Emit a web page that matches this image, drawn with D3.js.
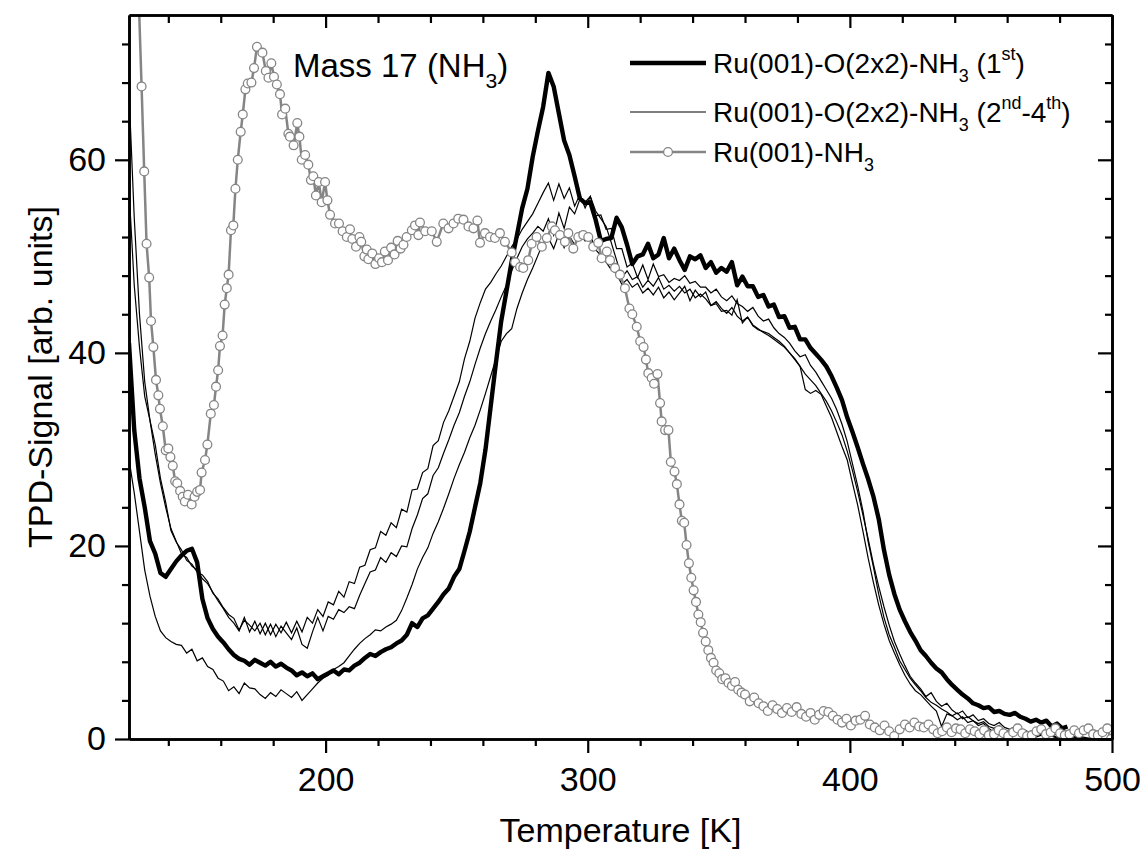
<!DOCTYPE html>
<html>
<head>
<meta charset="utf-8">
<script src="https://cdn.jsdelivr.net/npm/d3@7"></script>
<style>
	html, body { margin: 0; padding: 0; background: #fff; }
	svg text { font-family: "Liberation Sans", Arial, Helvetica, sans-serif; fill: #000; }
</style>
</head>
<body>
<svg id="chart" width="1144" height="854"></svg>
<script>
// axis ranges and ticks
var xDomain = [125, 500];
var yDomain = [0, 75];
var xMajorTicks = [200, 300, 400, 500];
var xMinorTicks = [140, 160, 180, 220, 240, 260, 280, 320, 340, 360, 380, 420, 440, 460, 480];
var yMajorTicks = [0, 20, 40, 60];
var yMinorTicks = [4, 8, 12, 16, 24, 28, 32, 36, 44, 48, 52, 56, 64, 68, 72];

// temperature grid of the O(2x2) runs [K]
var tempGrid = [
	125, 127, 129, 131, 133, 135, 137, 139, 141, 143,
	145, 147, 149, 151, 153, 155, 157, 159, 161, 163,
	165, 167, 169, 171, 173, 175, 177, 179, 181, 183,
	185, 187, 189, 191, 193, 195, 197, 199, 201, 203,
	205, 207, 209, 211, 213, 215, 217, 219, 221, 223,
	225, 227, 229, 231, 233, 235, 237, 239, 241, 243,
	245, 247, 249, 251, 253, 255, 257, 259, 261, 263,
	265, 267, 269, 271, 273, 275, 277, 279, 281, 283,
	285, 287, 289, 291, 293, 295, 297, 299, 301, 303,
	305, 307, 309, 311, 313, 315, 317, 319, 321, 323,
	325, 327, 329, 331, 333, 335, 337, 339, 341, 343,
	345, 347, 349, 351, 353, 355, 357, 359, 361, 363,
	365, 367, 369, 371, 373, 375, 377, 379, 381, 383,
	385, 387, 389, 391, 393, 395, 397, 399, 401, 403,
	405, 407, 409, 411, 413, 415, 417, 419, 421, 423,
	425, 427, 429, 431, 433, 435, 437, 439, 441, 443,
	445, 447, 449, 451, 453, 455, 457, 459, 461, 463,
	465, 467, 469, 471, 473, 475, 477, 479, 481, 483,
	485, 487, 489, 491, 493, 495, 497, 499
];

// Ru(001)-O(2x2)-NH3, 1st run (ends at 483 K)
var firstRun = [
	41, 32, 27, 24, 20.5, 19.2, 17.2, 16.8, 17.6, 18.4,
	19, 19.5, 19.7, 18.3, 14.5, 12.5, 11.4, 10.6, 10, 9.3,
	8.7, 8.3, 8.1, 7.7, 8.2, 7.9, 7.6, 8, 7.5, 7.8,
	7.4, 7.1, 6.6, 6.9, 6.5, 6.8, 6.2, 6.5, 6.8, 7.1,
	6.7, 7.2, 7.1, 7.6, 7.9, 8.4, 8.8, 8.6, 9, 9.3,
	9.5, 9.9, 10.2, 10.8, 12, 11.6, 12.5, 12.8, 13.5, 14.2,
	15, 15.6, 16.8, 17.6, 19.5, 21.5, 24, 26.5, 30, 34.5,
	39, 43.3, 46.4, 49.5, 52.2, 55, 57, 60.3, 63, 65.5,
	69, 67.6, 64.8, 62, 60.5, 58.3, 56, 55.5, 55.6, 53.8,
	51.6, 51.8, 51.9, 54, 53, 51.2, 49.2, 50, 50.2, 51.3,
	49.8, 50.2, 51.9, 49.8, 50.8, 49.6, 48.6, 50, 49.7, 50.1,
	48.8, 49.4, 48.3, 48.8, 48.4, 49.4, 47, 47.9, 46.9, 46.9,
	45.8, 46, 44.8, 45, 43.7, 43.8, 42.6, 42.7, 41.4, 41.4,
	40.5, 39.9, 39.3, 38.6, 37.6, 36.4, 35.1, 33.3, 31.8, 30.2,
	28.5, 26.9, 25.1, 22.8, 19.6, 17, 15, 13.4, 12.2, 11.1,
	10.2, 9.2, 8.6, 7.9, 7.3, 6.9, 6.2, 5.6, 5.1, 4.6,
	4.2, 3.7, 3.5, 3.2, 3.3, 2.8, 2.9, 2.6, 2.5, 2.7,
	2.3, 2.1, 1.8, 2, 1.7, 1.9, 1.3, 1.6, 1.1, 1.3
];

// Ru(001)-O(2x2)-NH3, 2nd to 4th runs
var secondRun = [
	67, 54, 44, 37, 33, 29.5, 26.5, 24, 21.8, 20.5,
	19.2, 18.8, 17.9, 17.5, 16.6, 16.1, 15.2, 14.3, 13.5, 12.6,
	12, 11.2, 12.6, 11.1, 12.2, 10.9, 12, 10.8, 11.9, 11,
	12.1, 11, 12.2, 11.1, 12.6, 12, 13.4, 12.7, 14.2, 13.9,
	15.3, 14.7, 16.3, 16.1, 17.8, 18, 19.6, 19.8, 21.5, 21.1,
	22.4, 21.9, 23.8, 23.5, 25.8, 25.9, 27.6, 28, 30.4, 30.9,
	32.8, 34, 35.5, 37, 39.4, 41.2, 43.6, 45.2, 46.6, 47.3,
	48.2, 49, 50, 51, 51.8, 52.8, 53.6, 54.4, 55.5, 56.6,
	57.6, 55.8, 57.5, 56, 57.1, 55.2, 56.4, 55, 56.2, 54.2,
	54.3, 52.8, 52.9, 50.8, 50.8, 48.9, 49.3, 47.8, 49.1, 47.6,
	49.2, 47.9, 48.1, 47.3, 47.7, 47.5, 48, 47.2, 47.4, 46.8,
	46.8, 46.2, 46.6, 45.8, 45.4, 45.9, 45.1, 44.8, 44.3, 44.7,
	43.8, 43.3, 43.5, 42.6, 42, 41.6, 41, 40.2, 39.6, 39.8,
	38.7, 38, 37.1, 36.2, 35.3, 34.1, 32.6, 30.8, 28.5, 26.2,
	23.6, 20.4, 17.8, 15, 12.6, 10.8, 9.5, 8.1, 7.2, 6.3,
	5.6, 5, 4.3, 3.8, 3.5, 3.1, 2.8, 2.4, 2.7, 2.1,
	2.3, 1.9, 1.6, 1.8, 1.3, 1.1, 1.4, 0.9, 0.8, 1,
	0.6, 0.5, 0.7, 0.4, 0.5, 0.3, 0.4, 0.2, 0.3, 0.2,
	0.1, 0.2, 0.1, 0, 0.1, 0, 0, 0
];

var thirdRun = [
	57, 47, 40.6, 35.5, 33, 30.5, 27, 24.5, 21.6, 20.4,
	19.6, 18.5, 18.1, 17.3, 17, 16.3, 15.1, 14.5, 13.6, 12.9,
	12.5, 11.3, 12.3, 11.8, 11.2, 12, 10.8, 11.9, 10.6, 11.7,
	11, 10.3, 11.5, 9.8, 9.4, 11.1, 12.6, 11.2, 12.7, 12.4,
	13.4, 13.1, 13.7, 13.5, 14.9, 16.1, 17.3, 17.5, 18.8, 18.3,
	19.3, 18.9, 20, 19.9, 21.8, 23.2, 24.9, 25.4, 27.3, 28.1,
	29.6, 31, 32.5, 33.8, 35.5, 37, 38.8, 40.5, 42, 43.3,
	44.5, 45.8, 47, 48.5, 49.8, 51, 51.8, 52.4, 53.1, 52.6,
	53.9, 52.2, 54.5, 52.9, 55.1, 54.4, 55.9, 55.6, 56.2, 54.7,
	53.9, 53.1, 51.4, 49.6, 47.8, 48.5, 47.6, 47.9, 46.8, 47.5,
	46.9, 47.8, 46.6, 47, 46.4, 46.9, 46.2, 46.6, 45.7, 46.1,
	45.6, 44.9, 45.3, 44.6, 44.1, 44.7, 43.8, 43.3, 43.7, 42.9,
	42.5, 42.1, 41.8, 41.4, 41, 40.6, 40, 39.4, 38.6, 37.8,
	37.2, 36.6, 35.8, 35, 34, 32.8, 31.5, 29.8, 27.8, 25.6,
	23.2, 20.7, 18.1, 15.8, 13.7, 11.8, 10.1, 8.8, 7.6, 6.5,
	5.8, 5.2, 4.4, 4.8, 3.9, 3.4, 3.7, 3, 2.6, 2.9,
	2.2, 2.5, 1.9, 2.1, 1.6, 1.4, 1.7, 1.2, 1, 1.3,
	0.8, 0.9, 0.6, 0.8, 0.5, 0.6, 0.4, 0.5, 0.3, 0.4,
	0.2, 0.3, 0.2, 0.1, 0.2, 0.1, 0, 0
];

var fourthRun = [
	29, 25.5, 21.5, 17.5, 14.8, 12.7, 11.2, 10.5, 10.1, 9.8,
	9.7, 8.9, 9.3, 8.1, 8.4, 7.5, 7.2, 6.3, 6, 5,
	5.4, 4.7, 5.8, 5.3, 5.2, 4.6, 4.2, 4.8, 4.4, 5.1,
	4.7, 4.3, 4.9, 4, 4.6, 5.2, 5.8, 6.3, 6.6, 7.2,
	7.5, 7.9, 8.6, 9.3, 9.9, 10.4, 10.8, 11.3, 11.2, 11.6,
	11.9, 12.3, 13.3, 14.6, 16, 17.6, 18.8, 19.8, 21.3, 22.5,
	23.9, 25.4, 27, 28.4, 29.7, 31.2, 32.5, 34.1, 35.8, 37.6,
	39.4, 41.2, 42, 42.5, 44.6, 46.2, 47.6, 48.8, 50.1, 51.4,
	51.9, 50.8, 52.3, 50.9, 52.1, 51.2, 52.5, 51.6, 52.2, 50.7,
	50.1, 49.4, 48.6, 48.2, 47.1, 47.6, 46.8, 47.2, 46.2, 46.7,
	46, 46.8, 45.7, 46.3, 45.5, 46.2, 46.9, 45.4, 46.5, 45.8,
	46.3, 44.9, 45.1, 44.3, 44.4, 43.9, 45.5, 43.1, 43.7, 42.8,
	42.4, 42.2, 42, 41.6, 41.2, 40.7, 40, 39.3, 38.6, 36.2,
	35.8, 36.1, 35.7, 34.5, 33.3, 31.8, 30.3, 28.9, 26.5, 24.2,
	21.5, 18.7, 16.2, 13.9, 11.9, 10.2, 8.9, 7.7, 6.6, 5.7,
	5, 4.6, 4, 3.4, 2.9, 1.3, 2.6, 2.4, 2, 2.3,
	1.7, 1.9, 1.4, 1.6, 1.1, 0.7, 1, 0.8, 0.6, 0.9,
	0.5, 0.3, 0.5, 0.2, 0.4, 0.2, 0.3, 0.1, 0.2, 0.1,
	0, 0.1, 0, 0, 0, 0, 0, 0
];

// Ru(001)-NH3 (grey, open circles)
var nh3Temps = [
	128.8, 129.8, 130.8, 131.7, 132.7, 133.4, 134.3, 135.3, 136.2, 136.8,
	137.9, 139.0, 140.0, 140.8, 141.7, 142.6, 143.4, 144.5, 145.5, 146.3,
	147.5, 148.9, 150.0, 151.0, 152.1, 152.7, 154.0, 154.9, 156.2, 157.4,
	158.2, 159.0, 159.7, 160.7, 161.5, 162.3, 163.0, 163.9, 164.8, 165.6,
	166.5, 167.6, 168.4, 169.4, 170.3, 171.7, 172.7, 173.8, 175.9, 177.2,
	178.2, 179.3, 180.3, 181.4, 182.6, 183.4, 184.6, 185.8, 186.4, 187.8,
	189.2, 190.0, 190.9, 192.2, 193.4, 194.4, 195.3, 196.3, 197.4, 198.5,
	199.8, 200.7, 201.7, 203.6, 205.1, 206.5, 208.1, 209.3, 210.2, 211.6,
	212.9, 213.6, 214.8, 215.7, 216.3, 217.8, 219.0, 220.4, 221.5, 222.6,
	223.8, 225.0, 226.3, 227.5, 228.6, 229.7, 230.9, 232.9, 234.1, 235.4,
	236.0, 238.0, 240.5, 242.4, 244.9, 246.9, 248.8, 250.6, 252.6, 254.5,
	256.4, 257.9, 258.9, 260.8, 262.7, 264.6, 266.5, 268.4, 271.0, 272.3,
	274.2, 275.4, 277.3, 278.6, 280.5, 282.5, 284.4, 286.3, 287.5, 289.4,
	291.3, 292.6, 294.5, 296.4, 298.3, 300.2, 302.1, 304.0, 305.3, 307.3,
	308.5, 310.4, 312.3, 314.2, 315.9, 317.0, 318.7, 320.0, 321.3, 322.2,
	323.1, 324.4, 325.3, 326.6, 327.6, 328.2, 329.5, 330.8, 331.7, 333.1,
	334.0, 335.0, 335.9, 336.8, 337.7, 338.6, 339.5, 340.4, 341.3, 342.2,
	343.1, 344.0, 345.0, 346.0, 347.0, 348.0, 349.0, 350.2, 351.3, 352.5,
	353.7, 355.0, 356.2, 357.4, 358.7, 360.0, 361.8, 363.5, 365.2, 367.0,
	368.7, 370.5, 372.3, 374.1, 376.0, 377.8, 379.7, 381.5, 383.3, 385.0,
	386.6, 388.3, 390.0, 391.8, 393.5, 395.3, 397.0, 398.7, 400.4, 402.2,
	404.0, 405.8, 407.6, 409.5, 411.4, 413.2, 415.0, 416.9, 419.0, 421.0,
	422.8, 424.6, 426.4, 428.2, 430.0, 431.8, 433.5, 435.2, 437.0, 438.8,
	440.5, 442.2, 444.0, 445.8, 447.6, 449.4, 451.2, 453.0, 455.0, 456.8,
	458.6, 460.4, 462.3, 464.0, 465.8, 467.6, 469.4, 471.2, 473.0, 474.8,
	476.6, 478.4, 480.2, 482.0, 483.8, 485.6, 487.4, 489.2, 491.0, 492.8,
	494.6, 496.4, 498.2, 499.6
];
var nh3Signal = [
	76, 67.6, 58.8, 51.3, 47.8, 43.3, 40.6, 37.2, 35.6, 34.2,
	32.4, 29.9, 30.1, 29.2, 28.3, 26.7, 26.5, 25.7, 25.1, 24.6,
	25.3, 24.3, 25.1, 25.6, 25.8, 27.6, 28.9, 30.5, 33.7, 34.6,
	36.5, 38.2, 40.7, 41.8, 45.0, 46.7, 48.1, 52.7, 53.2, 57.0,
	60.0, 62.9, 64.7, 67.3, 67.9, 68.0, 69.5, 71.7, 71.1, 69.2,
	68.5, 70.0, 68.6, 67.8, 66.8, 64.7, 65.3, 62.7, 62.4, 61.5,
	63.8, 62.4, 60.0, 60.5, 59.5, 57.9, 58.3, 56.3, 57.7, 55.6,
	57.7, 55.8, 54.3, 53.4, 53.4, 52.6, 52.0, 52.8, 51.8, 51.0,
	52.0, 51.5, 50.0, 50.7, 49.7, 50.3, 49.2, 49.8, 49.4, 50.5,
	49.6, 50.9, 50.2, 51.6, 50.8, 51.2, 52.0, 52.7, 53.2, 52.2,
	53.5, 52.6, 52.6, 51.5, 53.4, 52.9, 53.4, 53.9, 53.8, 53.1,
	52.9, 53.7, 51.4, 52.4, 52.0, 51.9, 52.4, 51.5, 50.4, 49.4,
	48.9, 48.8, 49.6, 51.3, 52.0, 51.0, 51.9, 53.1, 52.7, 52.2,
	51.5, 52.4, 50.8, 52.0, 52.2, 52.0, 51.0, 51.4, 49.8, 50.5,
	49.6, 48.8, 48.1, 46.7, 44.6, 44.0, 42.7, 41.2, 40.6, 39.3,
	37.9, 37.4, 36.8, 37.8, 34.8, 32.9, 32.0, 32.0, 28.7, 27.7,
	26.4, 24.3, 22.6, 22.4, 20.1, 18.2, 16.7, 15.4, 14.2, 12.9,
	12.1, 11.0, 10.1, 9.2, 8.4, 7.9, 7.1, 6.8, 6.2, 6.3,
	5.8, 5.5, 5.9, 5.1, 4.8, 4.6, 3.9, 4.3, 3.7, 3.4,
	2.9, 3.5, 3.1, 2.7, 3.2, 2.8, 3.3, 2.6, 2.3, 2.7,
	2.0, 2.5, 2.9, 2.8, 2.4, 2.0, 1.7, 2.1, 1.4, 1.9,
	2.0, 2.4, 1.5, 1.2, 0.9, 1.4, 0.8, 0.3, 1.0, 1.5,
	1.2, 1.7, 1.3, 1.2, 1.5, 1.0, 0.6, 0.8, 1.2, 0.7,
	1.1, 1.0, 0.6, 1.0, 0.8, 0.5, 0.9, 0.4, 0.5, 0.9,
	0.6, 0.3, 0.7, 1.1, 0.6, 0.3, 0.4, 0.8, 1.0, 0.5,
	0.7, 1.1, 0.6, 0.4, 0.5, 0.9, 0.6, 0.9, 1.1, 0.5,
	0.4, 0.7, 1.1, 0.0
];

// texts
var xTitle = "Temperature [K]";
var yTitle = "TPD-Signal [arb. units]";
// pieces: [text, "n" normal | "sub" | "sup"]
var massLabel = [["Mass 17 (NH", "n"], ["3", "sub"], [")", "n"]];
var legendLabels = [
	[["Ru(001)-O(2x2)-NH", "n"], ["3", "sub"], [" (1", "n"], ["st", "sup"], [")", "n"]],
	[["Ru(001)-O(2x2)-NH", "n"], ["3", "sub"], [" (2", "n"], ["nd", "sup"], ["-4", "n"], ["th", "sup"], [")", "n"]],
	[["Ru(001)-NH", "n"], ["3", "sub"]]
];

(function() {
	var PLOT_LEFT = 129, PLOT_RIGHT = 1112, PLOT_TOP = 15, PLOT_BOTTOM = 739;
	var MAJOR = 14, MINOR = 7;
	var TICK_FONT = 34;
	var GREY = "#858585";
	var SCRIPT = 0.64;

	var svg = d3.select("#chart");

	var x = d3.scaleLinear().domain(xDomain).range([PLOT_LEFT, PLOT_RIGHT]);
	var y = d3.scaleLinear().domain(yDomain).range([PLOT_BOTTOM, PLOT_TOP]);

	svg.append("defs").append("clipPath")
		.attr("id", "plot-clip")
		.append("rect")
		.attr("x", PLOT_LEFT)
		.attr("y", PLOT_TOP)
		.attr("width", PLOT_RIGHT - PLOT_LEFT)
		.attr("height", PLOT_BOTTOM - PLOT_TOP);

	function pairs(temps, values) {
		return values.map(function(v, i) { return [temps[i], v]; });
	}

	var line = d3.line()
		.x(function(d) { return x(d[0]); })
		.y(function(d) { return y(d[1]); });

	var plot = svg.append("g").attr("clip-path", "url(#plot-clip)");

	// thin runs first, thick 1st run on top
	[secondRun, thirdRun, fourthRun].forEach(function(run) {
		plot.append("path")
			.datum(pairs(tempGrid, run))
			.attr("d", line)
			.style("fill", "none")
			.style("stroke", "#000")
			.style("stroke-width", 1.2)
			.style("stroke-linejoin", "miter");
	});

	plot.append("path")
		.datum(pairs(tempGrid, firstRun))
		.attr("d", line)
		.style("fill", "none")
		.style("stroke", "#000")
		.style("stroke-width", 4.4)
		.style("stroke-linejoin", "round");

	var nh3 = pairs(nh3Temps, nh3Signal);
	plot.append("path")
		.datum(nh3)
		.attr("d", line)
		.style("fill", "none")
		.style("stroke", GREY)
		.style("stroke-width", 2.5)
		.style("stroke-linejoin", "round");

	plot.selectAll("circle.nh3")
		.data(nh3)
		.enter().append("circle")
		.attr("class", "nh3")
		.attr("cx", function(d) { return x(d[0]); })
		.attr("cy", function(d) { return y(d[1]); })
		.attr("r", 4.4)
		.style("fill", "#fff")
		.style("stroke", GREY)
		.style("stroke-width", 1.3);

	// axes: bottom/left ticks outward with labels, top/right ticks inward
	function styleAxis(g) {
		g.selectAll("path.domain").style("stroke", "#000").style("stroke-width", 2.6);
		g.selectAll(".tick line").style("stroke", "#000").style("stroke-width", 2.2);
		g.selectAll(".tick text")
			.style("font-size", TICK_FONT + "px")
			.style("font-family", "'Liberation Sans', Arial, sans-serif")
			.style("fill", "#000");
	}

	function drawAxis(axisFn, scale, transform, major, minor, majorSize, minorSize, labels, pad) {
		var gMinor = svg.append("g")
			.attr("transform", transform)
			.call(axisFn(scale).tickValues(minor).tickSize(minorSize).tickSizeOuter(0).tickFormat(""));
		styleAxis(gMinor);
		var axis = axisFn(scale).tickValues(major).tickSize(majorSize).tickSizeOuter(0).tickPadding(pad);
		if (!labels) axis.tickFormat("");
		var gMajor = svg.append("g")
			.attr("transform", transform)
			.call(axis);
		styleAxis(gMajor);
		return gMajor;
	}

	drawAxis(d3.axisBottom, x, "translate(0," + PLOT_BOTTOM + ")", xMajorTicks, xMinorTicks, MAJOR, MINOR, true, 14);
	drawAxis(d3.axisTop, x, "translate(0," + PLOT_TOP + ")", xMajorTicks, xMinorTicks, -13, -8, false, 0);
	drawAxis(d3.axisLeft, y, "translate(" + PLOT_LEFT + ",0)", yMajorTicks, yMinorTicks, MAJOR, MINOR, true, 9);
	drawAxis(d3.axisRight, y, "translate(" + PLOT_RIGHT + ",0)", yMajorTicks, yMinorTicks, -14, -7, false, 0);

	// axis titles
	svg.append("text")
		.attr("x", (PLOT_LEFT + PLOT_RIGHT) / 2)
		.attr("y", 842)
		.style("text-anchor", "middle")
		.style("font-size", "34px")
		.text(xTitle);

	svg.append("text")
		.attr("transform", "translate(52," + ((PLOT_TOP + PLOT_BOTTOM) / 2) + ") rotate(-90)")
		.style("text-anchor", "middle")
		.style("font-size", "34px")
		.text(yTitle);

	// sub/superscripts as tspans; dy is in the tspan's own em
	function richText(sel, parts) {
		var shift = 0;
		parts.forEach(function(p) {
			var t = sel.append("tspan").text(p[0]);
			var target = p[1] === "sub" ? 0.33 : (p[1] === "sup" ? -0.45 : 0);
			var size = p[1] === "n" ? 1 : SCRIPT;
			if (size !== 1) t.style("font-size", (SCRIPT * 100) + "%");
			if (target !== shift) t.attr("dy", ((target - shift) / size) + "em");
			shift = target;
		});
	}

	var mass = svg.append("text")
		.attr("x", 293)
		.attr("y", 77)
		.style("font-size", "33px");
	richText(mass, massLabel);

	// legend
	var legendRows = [63, 112, 152];
	var legend = svg.append("g");
	legendLabels.forEach(function(parts, i) {
		var ly = legendRows[i];
		var sw = i === 0 ? 4.4 : (i === 1 ? 1.2 : 2.5);
		var col = i === 2 ? GREY : "#000";
		legend.append("line")
			.attr("x1", 630).attr("x2", 706)
			.attr("y1", ly).attr("y2", ly)
			.style("stroke", col)
			.style("stroke-width", sw);
		if (i === 2) {
			legend.append("circle")
				.attr("cx", 668).attr("cy", ly).attr("r", 4.4)
				.style("fill", "#fff").style("stroke", GREY).style("stroke-width", 1.3);
		}
		var t = legend.append("text")
			.attr("x", 713)
			.attr("y", ly + 10)
			.style("font-size", "28px");
		richText(t, parts);
	});
}());
</script>
</body>
</html>
